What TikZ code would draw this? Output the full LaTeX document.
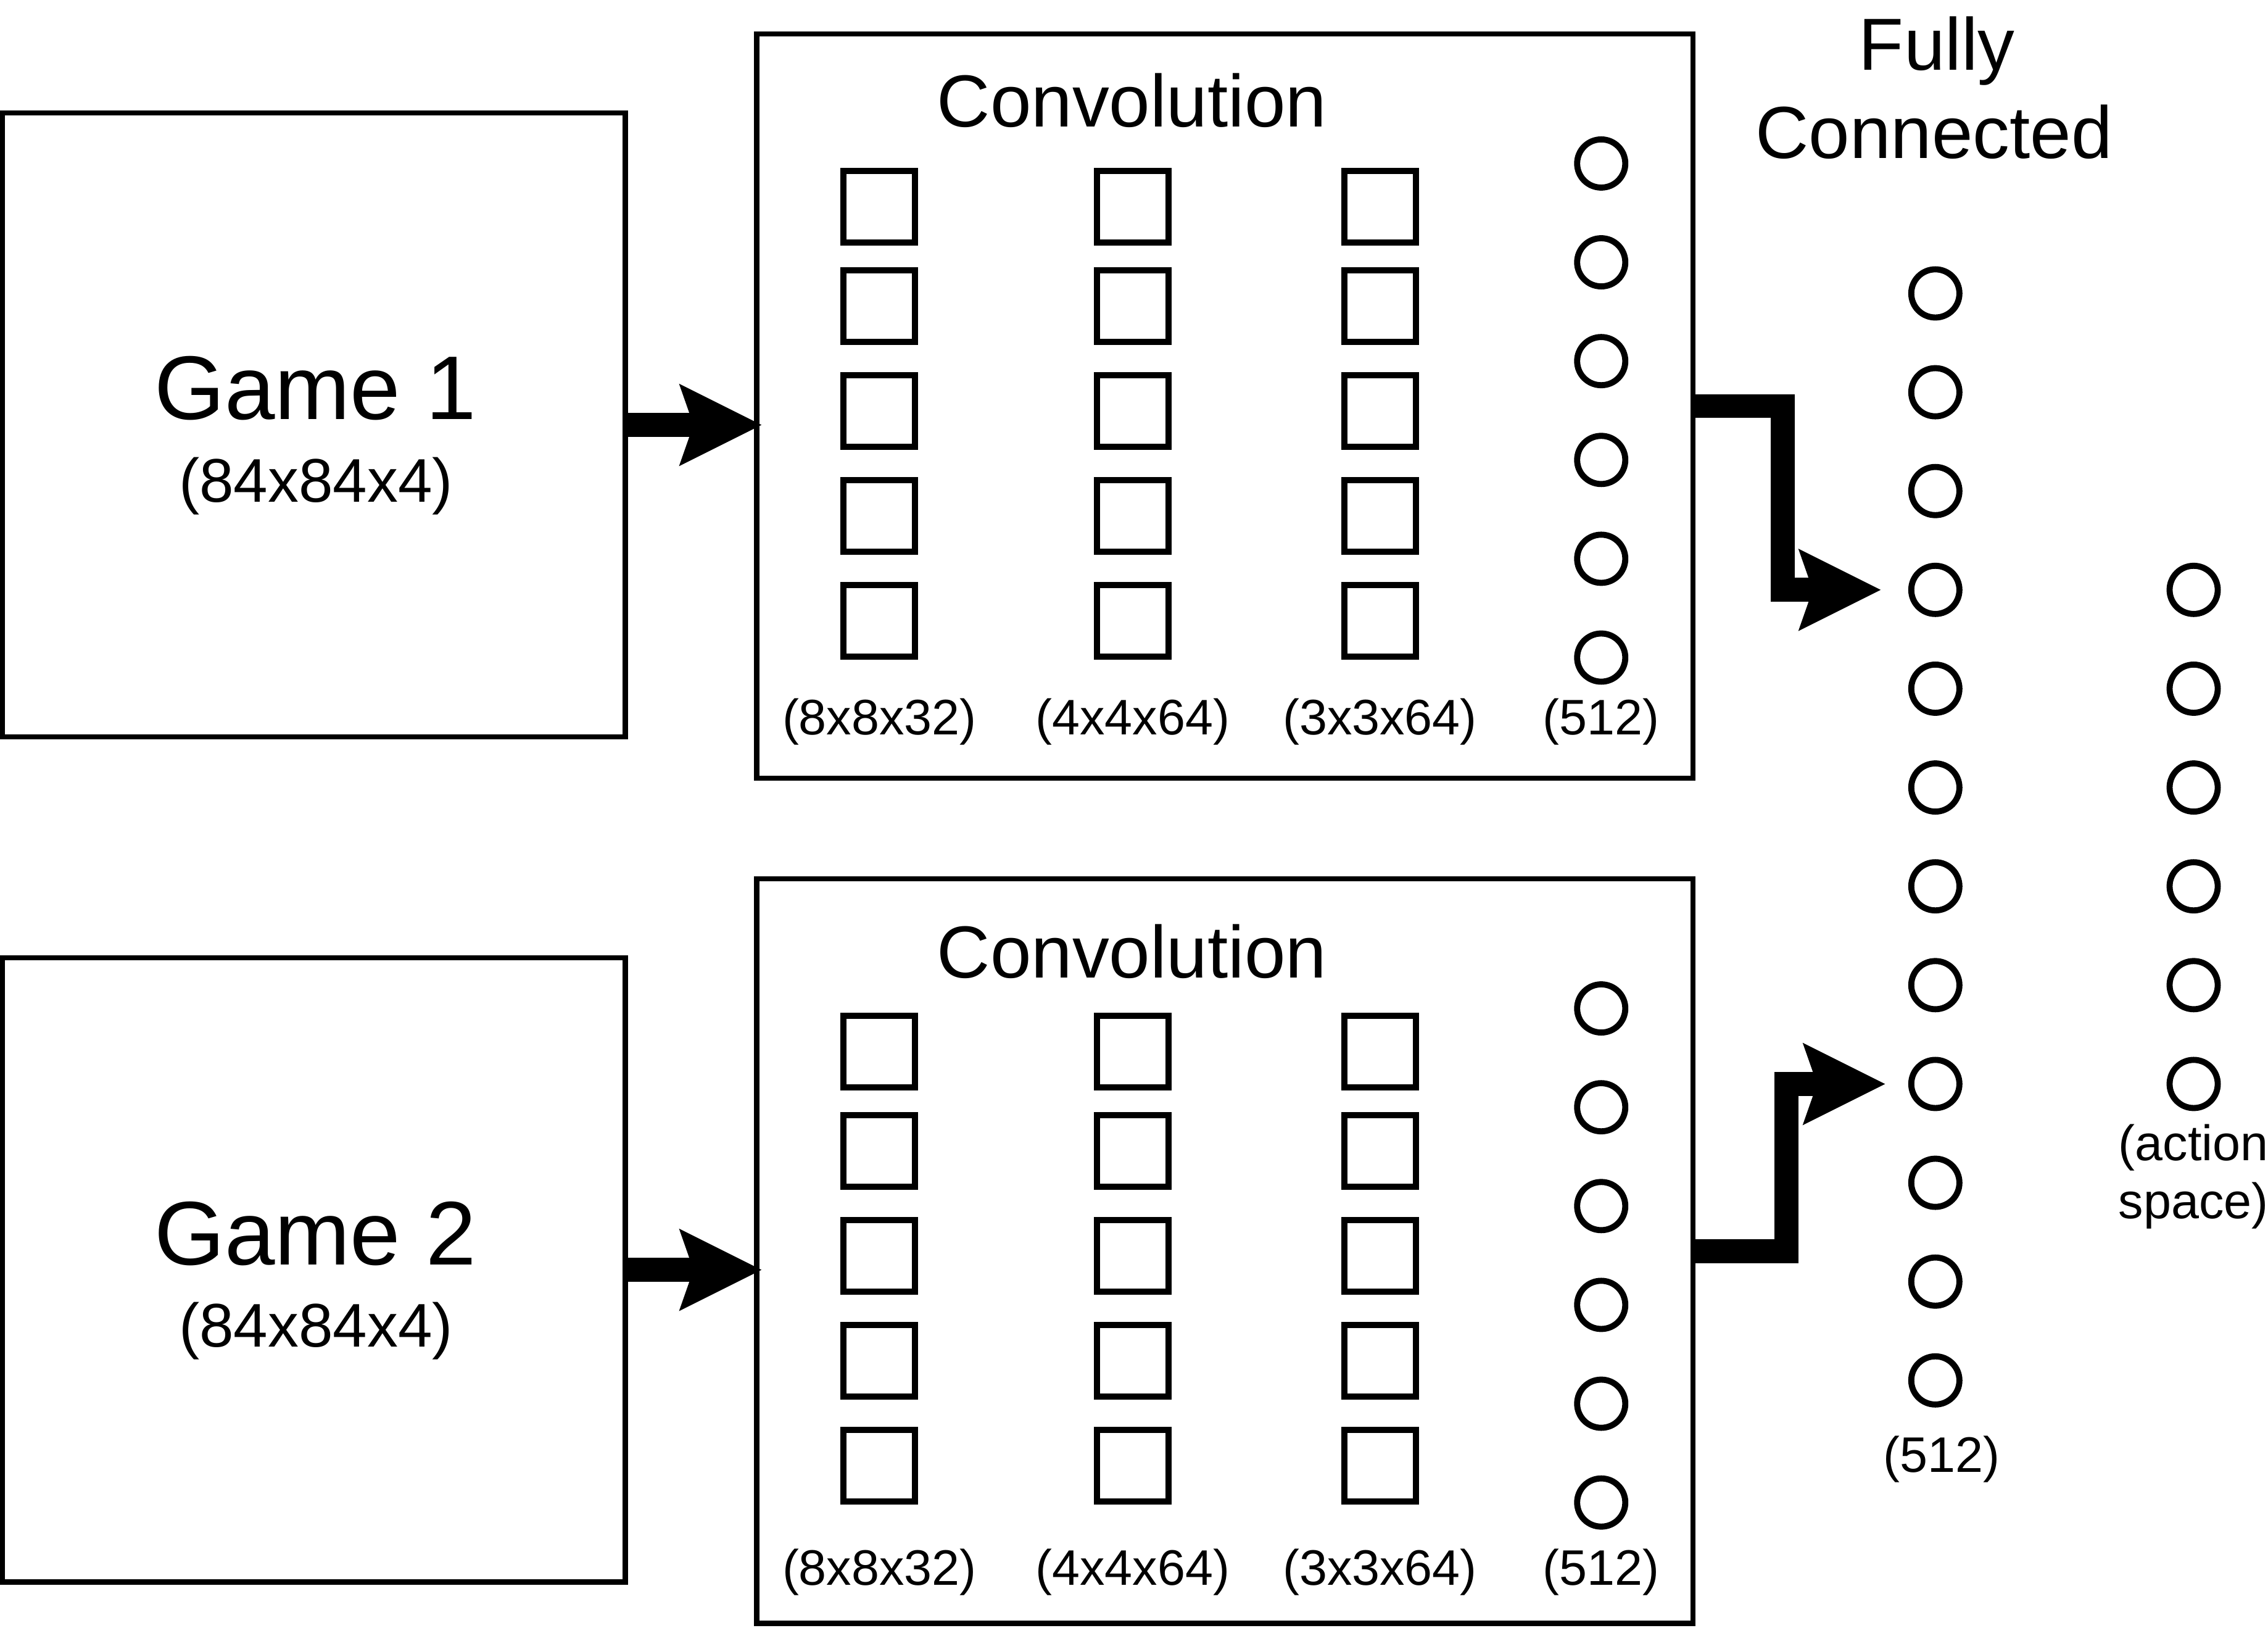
\documentclass[tikz,border=0pt]{standalone}
\usepackage{fontspec}
\setmainfont{Liberation Sans}
\usetikzlibrary{arrows.meta,calc}
\begin{document}
\begin{tikzpicture}[x=1pt,y=-1pt,
  panel/.style={draw,line width=3.5pt,inner sep=0pt},
  cell/.style={draw,line width=4.3pt,minimum size=49.5pt,inner sep=0pt},
  unit/.style={draw,circle,line width=4.2pt,minimum size=33.3pt,inner sep=0pt},
  flow/.style={line width=16.6pt,-{Stealth[length=57pt,width=57pt,inset=10pt,line width=0pt]}},
  txt/.style={anchor=base,inner sep=0pt},
  big/.style={txt,font=\fontsize{62.5}{75}\selectfont},
  mid/.style={txt,font=\fontsize{42.6}{51}\selectfont},
  head/.style={txt,font=\fontsize{51}{61}\selectfont},
  small/.style={txt,font=\fontsize{34.5}{41}\selectfont}]
\useasboundingbox (0,0) rectangle (1568,1125);

% input frames
\node[panel,minimum width=430.6pt,minimum height=431.5pt] (game1) at (217,293.7) {};
\node[panel,minimum width=430.6pt,minimum height=431.5pt] (game2) at (217,877.7) {};
\node[big] (g1t) at (218,290) {Game 1};
\node[mid] (g1s) at (218.5,347) {(84x84x4)};
\node[big] (g2t) at (218,874) {Game 2};
\node[mid] (g2s) at (218.5,931) {(84x84x4)};

% convolution blocks
\foreach \b/\dy/\dt in {1/0/0, 2/584/588}{
  \node[panel,minimum width=647.4pt,minimum height=514.7pt] (conv\b) at (846.9,280.65+\dy) {};
  \node[head] (conv\b-title) at (782.5,87.7+\dt) {Convolution};
  \foreach \c/\x in {1/608,2/783,3/954}{
    \foreach \r/\y in {1/143,2/211.5,3/284,4/356.5,5/429}{
      \node[cell] (conv\b-s\c-\r) at (\x,\y+\dy) {};
    }
  }
  \foreach \r in {0,...,5}{
    \node[unit] (conv\b-u\r) at (1107,113+68.3*\r+\dy) {};
  }
  \node[small] (conv\b-l1) at (608,507.6+\dt) {(8x8x32)};
  \node[small] (conv\b-l2) at (783,507.6+\dt) {(4x4x64)};
  \node[small] (conv\b-l3) at (954,507.6+\dt) {(3x3x64)};
  \node[small] (conv\b-l4) at (1107,507.6+\dt) {(512)};
}

% fully connected layer and output layer
\node[head] (fct1) at (1339,48.5) {Fully};
\node[head] (fct2) at (1337,109.6) {Connected};
\foreach \i in {1,...,12}{
  \node[unit] (fc\i) at (1338,202.8+68.3*\i-68.3) {};
}
\foreach \i in {4,...,9}{
  \node[unit] (out\i) at (1516.6,202.8+68.3*\i-68.3) {};
}
\node[small] (fcl) at (1342.5,1017.4) {(512)};
\node[small] (outl1) at (1516.5,802) {(action};
\node[small] (outl2) at (1516.5,842) {space)};

% data flow
\draw[flow] (game1.east) -- ($(game1.east -| conv1.west)+(5,0)$);
\draw[flow] (game2.east) -- ($(game2.east -| conv2.west)+(5,0)$);
\coordinate (in1) at ($(fc4.west)+(-19,0)$);
\coordinate (in2) at ($(fc9.west)+(-16,0)$);
\draw[flow] (conv1.east) -- ++(60,0) |- (in1);
\draw[flow] (conv2.east) -- ++(62.7,0) |- (in2);
\end{tikzpicture}
\end{document}
